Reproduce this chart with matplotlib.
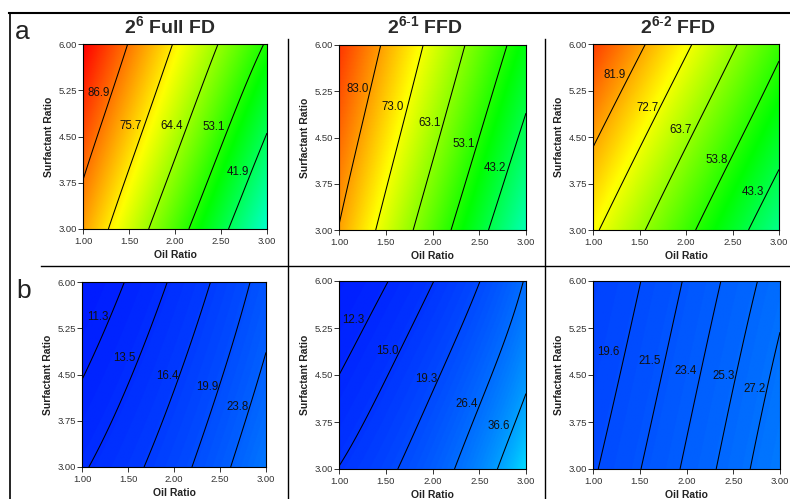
import numpy as np
import matplotlib
matplotlib.use('Agg')
import matplotlib.pyplot as plt
from matplotlib.colors import LinearSegmentedColormap
from matplotlib.lines import Line2D

plt.rcParams['font.family'] = ['Liberation Sans', 'DejaVu Sans']
plt.rcParams['mathtext.fontset'] = 'custom'
plt.rcParams['mathtext.rm'] = 'Liberation Sans'
plt.rcParams['mathtext.bf'] = 'Liberation Sans:bold'

oil_nodes = [1.0, 2.0, 3.0]
surf_nodes = [3.0, 4.5, 6.0]

# response at the nodes, rows = surfactant 3.0 / 4.5 / 6.0, cols = oil 1 / 2 / 3
full_fd_a = [[82.8, 57.0, 31.0], [90.5, 66.6, 41.5], [98.1, 75.1, 52.3]]
ffd1_a = [[82.7, 58.0, 33.3], [87.9, 64.8, 41.2], [92.8, 70.8, 48.6]]
ffd2_a = [[73.9, 55.7, 37.2], [82.9, 64.7, 46.5], [92.2, 73.9, 55.4]]
full_fd_b = [[13.2, 18.45, 28.7], [11.2, 16.0, 24.6], [9.6, 13.9, 21.6]]
ffd1_b = [[15.1, 23.1, 49.3], [12.3, 18.55, 34.5], [10.3, 14.9, 27.0]]
ffd2_b = [[19.38, 23.73, 28.95], [18.47, 22.71, 27.77], [17.6, 21.7, 26.5]]

# contour levels shown in each panel
levels_full_a = [86.9, 75.7, 64.4, 53.1, 41.9]
levels_ffd1_a = [83.0, 73.0, 63.1, 53.1, 43.2]
levels_ffd2_a = [81.9, 72.7, 63.7, 53.8, 43.3]
levels_full_b = [11.3, 13.5, 16.4, 19.9, 23.8]
levels_ffd1_b = [12.3, 15.0, 19.3, 26.4, 36.6]
levels_ffd2_b = [19.6, 21.5, 23.4, 25.3, 27.2]

# where each contour label sits (point on the line, label to its left)
lab_full_a = [(1.31, 5.20), (1.65, 4.67), (2.10, 4.67), (2.56, 4.65), (2.82, 3.93)]
lab_ffd1_a = [(1.33, 5.29), (1.71, 4.99), (2.10, 4.73), (2.47, 4.40), (2.80, 4.00)]
lab_ffd2_a = [(1.37, 5.50), (1.72, 4.97), (2.08, 4.61), (2.46, 4.13), (2.85, 3.62)]
lab_full_b = [(1.30, 5.44), (1.60, 4.77), (2.07, 4.48), (2.50, 4.29), (2.83, 3.98)]
lab_ffd1_b = [(1.29, 5.38), (1.65, 4.88), (2.07, 4.44), (2.50, 4.03), (2.84, 3.68)]
lab_ffd2_b = [(1.30, 4.86), (1.74, 4.72), (2.13, 4.57), (2.53, 4.48), (2.86, 4.28)]

titles = [r'$\mathbf{2^{6}}$ Full FD', r'$\mathbf{2^{6\text{-}1}}$ FFD', r'$\mathbf{2^{6\text{-}2}}$ FFD']
x_ticks = [1.0, 1.5, 2.0, 2.5, 3.0]
y_ticks = [3.0, 3.75, 4.5, 5.25, 6.0]

cmap = LinearSegmentedColormap.from_list(
    'dx', ['#0000ff', '#00ffff', '#00ff00', '#ffff00', '#ff0000'])


def lagrange(t):
    # quadratic weights for three equally spaced nodes, t in [0, 2]
    return np.stack([(t - 1) * (t - 2) / 2, -t * (t - 2), t * (t - 1) / 2], axis=1)


def surface(values, inverse):
    xs = np.linspace(oil_nodes[0], oil_nodes[-1], 240)
    ys = np.linspace(surf_nodes[0], surf_nodes[-1], 240)
    wx = lagrange((xs - oil_nodes[0]) / (oil_nodes[1] - oil_nodes[0]))
    wy = lagrange((ys - surf_nodes[0]) / (surf_nodes[1] - surf_nodes[0]))
    g = np.array(values, dtype=float)
    if inverse:
        z = 1.0 / (wy @ (1.0 / g) @ wx.T)
    else:
        z = wy @ g @ wx.T
    return xs, ys, z


W, H = 790, 499
fig = plt.figure(figsize=(W / 100, H / 100), dpi=100)

# axes boxes in pixels: left, top, right, bottom
boxes = [(83, 44, 267, 229), (339, 45, 526, 230), (593, 44, 779, 230),
         (82, 282, 266, 467), (339, 281, 526, 469), (593, 281, 780, 469)]
panels = [
    (full_fd_a, levels_full_a, lab_full_a, False),
    (ffd1_a, levels_ffd1_a, lab_ffd1_a, False),
    (ffd2_a, levels_ffd2_a, lab_ffd2_a, False),
    (full_fd_b, levels_full_b, lab_full_b, True),
    (ffd1_b, levels_ffd1_b, lab_ffd1_b, True),
    (ffd2_b, levels_ffd2_b, lab_ffd2_b, True),
]

for i, ((l, t, r, b), (vals, levels, labs, inv)) in enumerate(zip(boxes, panels)):
    ax = fig.add_axes([l / W, 1 - b / H, (r - l) / W, (b - t) / H])
    xs, ys, z = surface(vals, inv)
    if inv:
        vmin, vmax = 4, 212
    else:
        vmin, vmax = 2, 98
    ax.imshow(z, origin='lower', extent=[xs[0], xs[-1], ys[0], ys[-1]],
              aspect='auto', cmap=cmap, vmin=vmin, vmax=vmax, interpolation='bilinear')
    ax.contour(xs, ys, z, levels=sorted(levels), colors='black', linewidths=0.75)
    for lev, (lx, ly) in zip(levels, labs):
        ax.annotate('%.1f' % lev, (lx, ly), xytext=(-1, 0), textcoords='offset points',
                    ha='right', va='center', fontsize=8.3, color='#111111')
    ax.set_xlim(1, 3)
    ax.set_ylim(3, 6)
    ax.set_xticks(x_ticks)
    ax.set_yticks(y_ticks)
    ax.set_xticklabels(['%.2f' % v for v in x_ticks])
    ax.set_yticklabels(['%.2f' % v for v in y_ticks])
    ax.tick_params(axis='both', direction='out', length=3.6, width=0.7,
                   labelsize=6.8, colors='#333333')
    ax.tick_params(axis='x', pad=2.2)
    ax.tick_params(axis='y', pad=0.8)
    for s in ax.spines.values():
        s.set_linewidth(0.8)
        s.set_color('black')
    ax.set_xlabel('Oil Ratio', fontsize=7.5, fontweight='bold', labelpad=3, color='#222222')
    ax.set_ylabel('Surfactant Ratio', fontsize=7.5, fontweight='bold', labelpad=3, color='#222222')

# column titles
for cx, title in zip([170, 425, 678], titles):
    fig.text(cx / W, 1 - 33 / H, title, ha='center', va='baseline',
             fontsize=14, fontweight='bold', color='#2a2a2a')

fig.text(15 / W, 1 - 39 / H, 'a', fontsize=19, color='#222222')
fig.text(16 / W, 1 - 298 / H, 'b', fontsize=19, color='#222222')

# frame lines of the composite figure
frame = [((9, 790), (13, 13), 1.5), ((10, 10), (13, 499), 1.2),
         ((41, 790), (266, 266), 1.0), ((288, 288), (39, 499), 1.0),
         ((545, 545), (39, 499), 1.0)]
for (x0, x1), (y0, y1), lw in frame:
    fig.add_artist(Line2D([x0 / W, x1 / W], [1 - y0 / H, 1 - y1 / H],
                          transform=fig.transFigure, color='black', linewidth=lw))

fig.savefig('out.png', dpi=100)
